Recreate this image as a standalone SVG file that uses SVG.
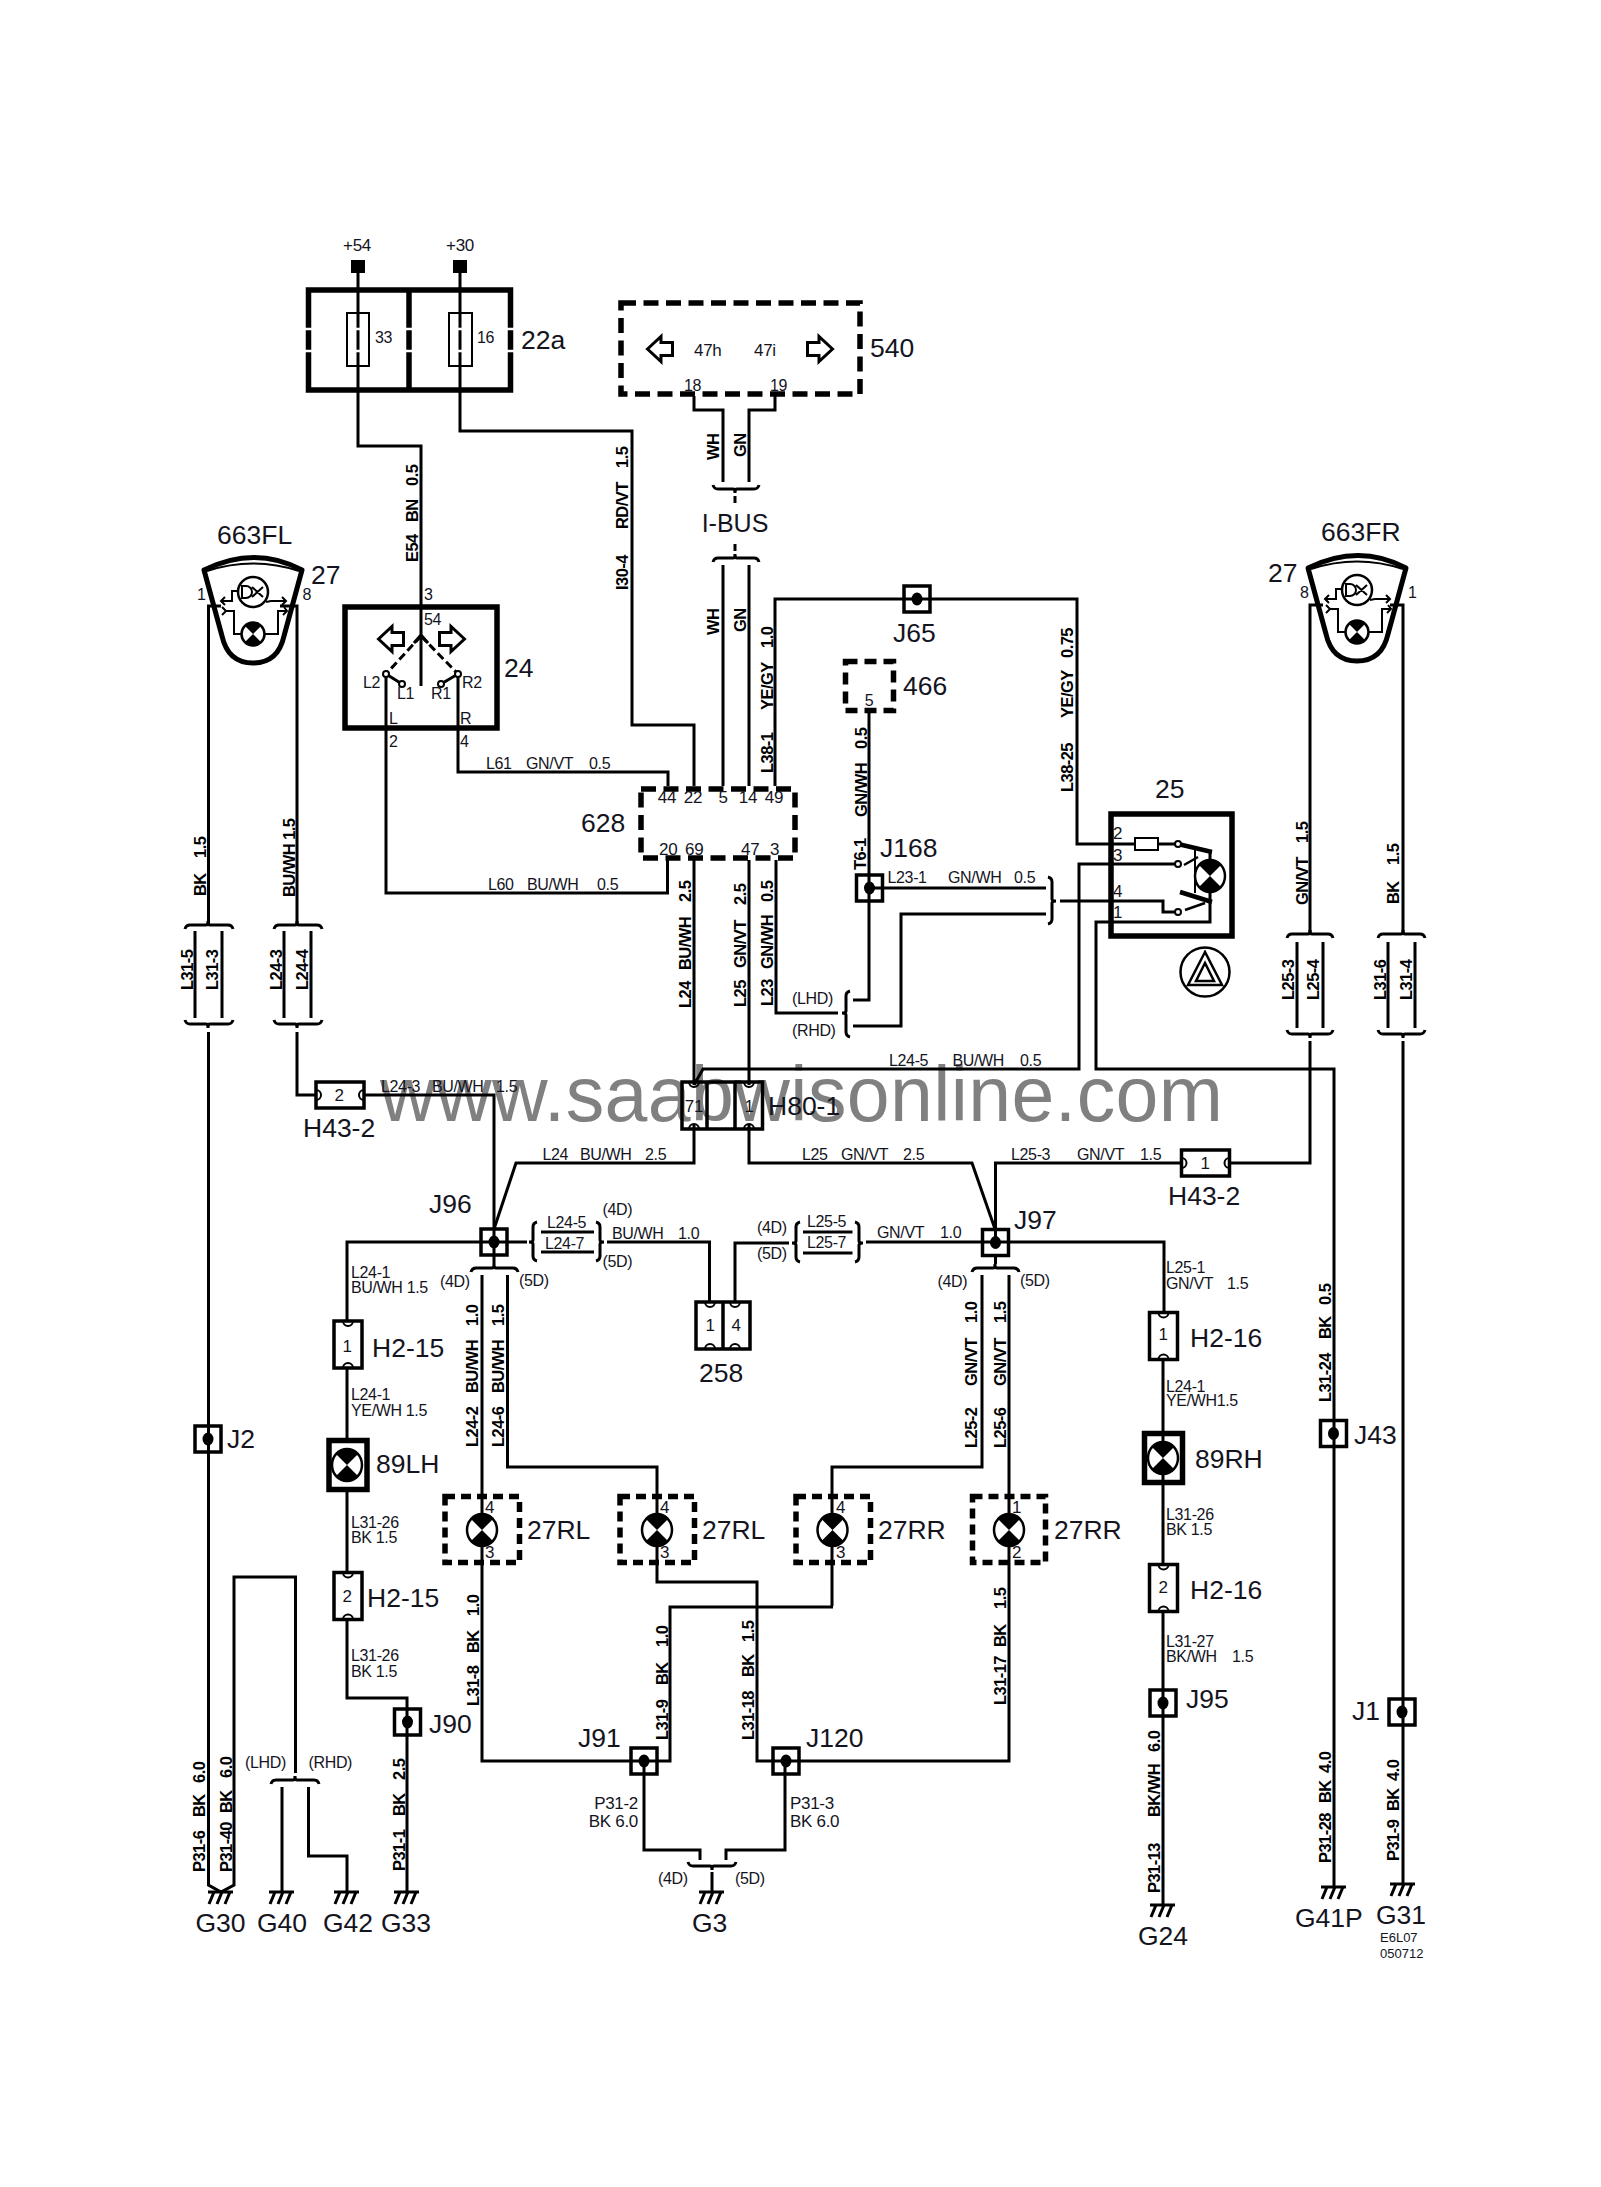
<svg xmlns="http://www.w3.org/2000/svg" width="1601" height="2187" viewBox="0 0 1601 2187">
<style>
text{font-family:"Liberation Sans",Arial,sans-serif;fill:#14141e}
.t{font-size:16px;letter-spacing:-.35px}.s{font-size:17px;letter-spacing:-.3px}.b{font-size:26.5px}.r{font-size:16.5px;letter-spacing:-.55px;font-weight:bold;fill:#000}
.w{fill:none;stroke:#000;stroke-width:3}
.k{fill:none;stroke:#000;stroke-width:2}
.hb{fill:none;stroke:#000;stroke-width:5.5}
.bx{fill:none;stroke:#000;stroke-width:3.5}
.m{text-anchor:middle}.e{text-anchor:end}
</style>
<defs>
<g id="j"><rect x="-13" y="-13" width="26" height="26" class="bx"/><ellipse rx="5.5" ry="6.5" fill="#000"/></g>
<g id="bulb"><ellipse rx="15" ry="16" fill="#fff" stroke="#000" stroke-width="2.5"/><path d="M0,0L-11,-11A15.5,15.5 0 0 1 11,-11ZM0,0L-11,11A15.5,15.5 0 0 0 11,11Z" fill="#000"/></g>
<g id="pv"><rect x="-14" y="-23.5" width="28" height="47" class="bx"/><path d="M-5,-23.5A5,5 0 0 0 5,-23.5M-5,23.5A5,5 0 0 1 5,23.5" class="k" stroke-width="2.5"/></g>
<g id="ph"><rect x="-24" y="-13" width="48" height="26" class="bx"/><path d="M-24,-5A5,5 0 0 1 -24,5M24,-5A5,5 0 0 0 24,5" class="k"/></g>
<path id="gnd" d="M-13,0H12M-7,0L-12,12M1,0L-4,12M9,0L4,12" class="w"/>
<g id="lamp663">
<path d="M-49,-30Q2,-55 49,-30L31,36Q25,63 0,63Q-25,63 -31,36Z" fill="none" stroke="#000" stroke-width="5" stroke-linejoin="round"/>
<path d="M-46,-29Q0,-44 46,-29" fill="none" stroke="#000" stroke-width="2"/>
<path d="M-32,1H-21V-9H-15M13,2L18,1H32M-27,11H-19V34H-11M11,34H25V11H34M-28,-3L-32,1L-28,5M29,-3L33,1L29,5M-31,7L-27,11L-31,15M31,7L34,11L30,15" class="k"/>
<circle cx="0" cy="-8" r="15" fill="#fff" stroke="#000" stroke-width="2.5"/>
<path d="M-11,-14H-7A6,6 0 0 1 -7,-2H-11ZM-1,-13L10,-3M10,-13L-1,-3" class="k"/>
<circle cx="0" cy="34" r="11.5" fill="#fff" stroke="#000" stroke-width="2.5"/>
<path d="M0,34L-8,26A11.5,11.5 0 0 1 8,26ZM0,34L-8,42A11.5,11.5 0 0 0 8,42Z" fill="#000"/>
</g>
<path id="al" d="M-12.5,0L1,-12.5V-6.5H12.5V6.5H1V12.5Z" fill="none" stroke="#000" stroke-width="3"/>
</defs>

<text x="380" y="1121" style="font-size:77px;fill:#808080" textLength="843">www.saabwisonline.com</text>

<g id="connectors">
<path class="w" d="M358,266V446H421V686M460,266V431H632V725H694V786M386,674V893H667.5V860M458,674V772H668V786"/>
<path class="w" d="M694,396V410H723V482M775,396V410H749V482M723,565V786M749,565V786M735,496V503M735,544V551"/>
<path class="w" d="M775,786V599H1077V844H1135M1158,844H1178M869,713V1000H853M776,860V1013H838M853,1026H901V914H1046M870,888H1046M1060,901H1163V912H1178"/>
<path class="w" d="M694,860V1085M694,1125V1163H516L494,1229M694,1085L703,1069H1079V864H1178M1210,890V922H1096V1069H1334V1887"/>
<path class="w" d="M749,860V1085M749,1125V1163H972L995,1229M995.5,1242V1163H1181M1230,1163H1310V1041M1323,605H1310V934"/>
<path class="w" d="M221,606H208.5V925M208.5,1032V1885L221,1892L234,1885V1577H295.5V1773M280,606H297V925M297,1032V1095H316M364,1095H494V1264"/>
<path class="w" d="M347,1321V1242H527M607,1242H709.5V1302M735,1302V1243H789M866,1242H1164V1312M995.5,1255V1264"/>
<path class="w" d="M347,1368V1438M347,1492V1572M347,1620V1698H407V1892"/>
<path class="w" d="M482,1275V1761H670V1607H833M507.5,1275V1467H657V1582H757V1761H1009V1275M982,1275V1467H832V1606"/>
<path class="w" d="M1163,1360V1564M1163,1612V1905"/>
<path class="w" d="M644,1761V1850H700V1860M785,1761V1850H726V1860M712,1872V1892M282,1787V1892M308.5,1787V1856H347V1892"/>
<path class="w" d="M1390,605H1403V934M1403,1041V1884M195,931V1018M222,931V1018M284,931V1018M311,931V1018M1297,942V1028M1323,942V1028M1388,942V1028M1415,942V1028"/>
<path class="w" d="M541,1232H594M541,1252H594M803,1232H852.5M803,1253H852.5"/>
<g class="w" id="braces">
<path d="M713,485q1,4 5,4H733q2,0 2,4q0,-4 2,-4H754q4,0 5,-4"/>
<path d="M713,562q1,-4 5,-4H733q2,0 2,-4q0,4 2,4H754q4,0 5,4"/>
<path d="M185,929q1,-4 5,-4H206q2,0 2,-4q0,4 2,4H228q4,0 5,4"/>
<path d="M185,1020q1,4 5,4H206q2,0 2,4q0,-4 2,-4H228q4,0 5,-4"/>
<path d="M274,929q1,-4 5,-4H295q2,0 2,-4q0,4 2,4H317q4,0 5,4"/>
<path d="M274,1020q1,4 5,4H295q2,0 2,4q0,-4 2,-4H317q4,0 5,-4"/>
<path d="M1287,938q1,-4 5,-4H1308q2,0 2,-4q0,4 2,4H1328q4,0 5,4"/>
<path d="M1287,1030q1,4 5,4H1308q2,0 2,4q0,-4 2,-4H1328q4,0 5,-4"/>
<path d="M1378,938q1,-4 5,-4H1401q2,0 2,-4q0,4 2,4H1420q4,0 5,4"/>
<path d="M1378,1030q1,4 5,4H1401q2,0 2,4q0,-4 2,-4H1420q4,0 5,-4"/>
<path d="M471,1272q1,-4 5,-4H492q2,0 2,-4q0,4 2,4H513q4,0 5,4"/>
<path d="M972,1272q1,-4 5,-4H993q2,0 2,-4q0,4 2,4H1014q4,0 5,4"/>
<path d="M271,1784q1,-4 5,-4H293q2,0 2,-4q0,4 2,4H314q4,0 5,4"/>
<path d="M688,1862q1,4 5,4H710q2,0 2,4q0,-4 2,-4H731q4,0 5,-4"/>
<path d="M850,991q-4,1 -4,5V1011q0,2 -4,2q4,0 4,2V1032q0,4 4,5"/>
<path d="M1048,877q4,1 4,5V899q0,2 4,2q-4,0 -4,2V919q0,4 -4,5"/>
<path d="M537,1222q-4,1 -4,5V1240q0,2 -4,2q4,0 4,2V1256q0,4 4,5"/>
<path d="M596,1222q4,1 4,5V1240q0,2 4,2q-4,0 -4,2V1256q0,4 -4,5"/>
<path d="M800,1222q-4,1 -4,5V1241q0,2 -4,2q4,0 4,2V1257q0,4 4,5"/>
<path d="M855,1222q4,1 4,5V1241q0,2 4,2q-4,0 -4,2V1257q0,4 -4,5"/>
</g>
</g>

<g id="wire-labels">
<g>
<text class="r" transform="translate(417.5,562) rotate(-90)">E54</text><text class="r" transform="translate(417.5,522) rotate(-90)">BN</text><text class="r" transform="translate(417.5,486) rotate(-90)">0.5</text>
<text class="r" transform="translate(628,590) rotate(-90)">I30-4</text><text class="r" transform="translate(628,529) rotate(-90)">RD/VT</text><text class="r" transform="translate(628,468) rotate(-90)">1.5</text>
<text class="r" transform="translate(719,460) rotate(-90)">WH</text><text class="r" transform="translate(746,457) rotate(-90)">GN</text>
<text class="r" transform="translate(719,635) rotate(-90)">WH</text><text class="r" transform="translate(746,632) rotate(-90)">GN</text>
<text class="r" transform="translate(772.5,773) rotate(-90)">L38-1</text><text class="r" transform="translate(772.5,710) rotate(-90)">YE/GY</text><text class="r" transform="translate(772.5,648) rotate(-90)">1.0</text>
<text class="r" transform="translate(1073,792) rotate(-90)">L38-25</text><text class="r" transform="translate(1073,718) rotate(-90)">YE/GY</text><text class="r" transform="translate(1073,658) rotate(-90)">0.75</text>
<text class="r" transform="translate(867,817) rotate(-90)">GN/WH</text><text class="r" transform="translate(867,749) rotate(-90)">0.5</text>
<text class="r" transform="translate(866,870) rotate(-90)">T6-1</text>
<text class="r" transform="translate(691,1008) rotate(-90)">L24</text><text class="r" transform="translate(691,970) rotate(-90)">BU/WH</text><text class="r" transform="translate(691,902) rotate(-90)">2.5</text>
<text class="r" transform="translate(746,1007) rotate(-90)">L25</text><text class="r" transform="translate(746,968) rotate(-90)">GN/VT</text><text class="r" transform="translate(746,905) rotate(-90)">2.5</text>
<text class="r" transform="translate(773,1006) rotate(-90)">L23</text><text class="r" transform="translate(773,969) rotate(-90)">GN/WH</text><text class="r" transform="translate(773,902) rotate(-90)">0.5</text>
<text class="r" transform="translate(206,896) rotate(-90)">BK</text><text class="r" transform="translate(206,858) rotate(-90)">1.5</text>
<text class="r" transform="translate(295,897) rotate(-90)">BU/WH 1.5</text>
<text class="r" transform="translate(192.5,990) rotate(-90)">L31-5</text><text class="r" transform="translate(217.5,990) rotate(-90)">L31-3</text>
<text class="r" transform="translate(282,990) rotate(-90)">L24-3</text><text class="r" transform="translate(307.5,990) rotate(-90)">L24-4</text>
<text class="r" transform="translate(1308,905) rotate(-90)">GN/VT</text><text class="r" transform="translate(1308,843) rotate(-90)">1.5</text>
<text class="r" transform="translate(1399,904) rotate(-90)">BK</text><text class="r" transform="translate(1399,865) rotate(-90)">1.5</text>
<text class="r" transform="translate(1294,1000) rotate(-90)">L25-3</text><text class="r" transform="translate(1319,1000) rotate(-90)">L25-4</text>
<text class="r" transform="translate(1386,1000) rotate(-90)">L31-6</text><text class="r" transform="translate(1412,1000) rotate(-90)">L31-4</text>
<text class="r" transform="translate(477.5,1447) rotate(-90)">L24-2</text><text class="r" transform="translate(477.5,1393) rotate(-90)">BU/WH</text><text class="r" transform="translate(477.5,1326) rotate(-90)">1.0</text>
<text class="r" transform="translate(504,1447) rotate(-90)">L24-6</text><text class="r" transform="translate(504,1393) rotate(-90)">BU/WH</text><text class="r" transform="translate(504,1326) rotate(-90)">1.5</text>
<text class="r" transform="translate(977,1448) rotate(-90)">L25-2</text><text class="r" transform="translate(977,1386) rotate(-90)">GN/VT</text><text class="r" transform="translate(977,1323) rotate(-90)">1.0</text>
<text class="r" transform="translate(1006,1448) rotate(-90)">L25-6</text><text class="r" transform="translate(1006,1386) rotate(-90)">GN/VT</text><text class="r" transform="translate(1006,1323) rotate(-90)">1.5</text>
<text class="r" transform="translate(479,1706) rotate(-90)">L31-8</text><text class="r" transform="translate(479,1653) rotate(-90)">BK</text><text class="r" transform="translate(479,1616) rotate(-90)">1.0</text>
<text class="r" transform="translate(668,1740) rotate(-90)">L31-9</text><text class="r" transform="translate(668,1685) rotate(-90)">BK</text><text class="r" transform="translate(668,1647) rotate(-90)">1.0</text>
<text class="r" transform="translate(753.5,1740) rotate(-90)">L31-18</text><text class="r" transform="translate(753.5,1677) rotate(-90)">BK</text><text class="r" transform="translate(753.5,1642) rotate(-90)">1.5</text>
<text class="r" transform="translate(1006,1705) rotate(-90)">L31-17</text><text class="r" transform="translate(1006,1647) rotate(-90)">BK</text><text class="r" transform="translate(1006,1609) rotate(-90)">1.5</text>
<text class="r" transform="translate(205,1872) rotate(-90)">P31-6</text><text class="r" transform="translate(205,1817) rotate(-90)">BK</text><text class="r" transform="translate(205,1783) rotate(-90)">6.0</text>
<text class="r" transform="translate(232,1872) rotate(-90)">P31-40</text><text class="r" transform="translate(232,1813) rotate(-90)">BK</text><text class="r" transform="translate(232,1778) rotate(-90)">6.0</text>
<text class="r" transform="translate(404.5,1871) rotate(-90)">P31-1</text><text class="r" transform="translate(404.5,1816) rotate(-90)">BK</text><text class="r" transform="translate(404.5,1780) rotate(-90)">2.5</text>
<text class="r" transform="translate(1160,1893) rotate(-90)">P31-13</text><text class="r" transform="translate(1160,1817) rotate(-90)">BK/WH</text><text class="r" transform="translate(1160,1752) rotate(-90)">6.0</text>
<text class="r" transform="translate(1331,1863) rotate(-90)">P31-28</text><text class="r" transform="translate(1331,1803) rotate(-90)">BK</text><text class="r" transform="translate(1331,1773) rotate(-90)">4.0</text>
<text class="r" transform="translate(1399,1861) rotate(-90)">P31-9</text><text class="r" transform="translate(1399,1811) rotate(-90)">BK</text><text class="r" transform="translate(1399,1781) rotate(-90)">4.0</text>
<text class="r" transform="translate(1331,1402) rotate(-90)">L31-24</text><text class="r" transform="translate(1331,1339) rotate(-90)">BK</text><text class="r" transform="translate(1331,1305) rotate(-90)">0.5</text>
</g>
<g>
<text class="t" x="486" y="769">L61</text><text class="t" x="526" y="769">GN/VT</text><text class="t" x="589" y="769">0.5</text>
<text class="t" x="488" y="890">L60</text><text class="t" x="527" y="890">BU/WH</text><text class="t" x="597" y="890">0.5</text>
<text class="t" x="887.5" y="883">L23-1</text><text class="t" x="948" y="883">GN/WH</text><text class="t" x="1014" y="883">0.5</text>
<text class="t" x="889" y="1066">L24-5</text><text class="t" x="952.5" y="1066">BU/WH</text><text class="t" x="1020" y="1066">0.5</text>
<text class="t" x="381" y="1092">L24-3</text><text class="t" x="432" y="1092">BU/WH</text><text class="t" x="496" y="1092">1.5</text>
<text class="t" x="542.5" y="1160">L24</text><text class="t" x="580" y="1160">BU/WH</text><text class="t" x="645" y="1160">2.5</text>
<text class="t" x="802" y="1160">L25</text><text class="t" x="841" y="1160">GN/VT</text><text class="t" x="903" y="1160">2.5</text>
<text class="t" x="1011" y="1160">L25-3</text><text class="t" x="1077" y="1160">GN/VT</text><text class="t" x="1140" y="1160">1.5</text>
<text class="t" x="547" y="1228">L24-5</text><text class="t" x="545" y="1249">L24-7</text>
<text class="t" x="807" y="1227">L25-5</text><text class="t" x="807" y="1248">L25-7</text>
<text class="t" x="612" y="1239">BU/WH</text><text class="t" x="678" y="1239">1.0</text>
<text class="t" x="877" y="1238">GN/VT</text><text class="t" x="940" y="1238">1.0</text>
<text class="t" x="602.5" y="1215">(4D)</text><text class="t" x="602.5" y="1267">(5D)</text>
<text class="t" x="757" y="1233">(4D)</text><text class="t" x="757" y="1259">(5D)</text>
<text class="t" x="440" y="1287">(4D)</text><text class="t" x="519" y="1286">(5D)</text>
<text class="t" x="937.5" y="1287">(4D)</text><text class="t" x="1020" y="1286">(5D)</text>
<text class="t" x="792" y="1004">(LHD)</text><text class="t" x="792" y="1036">(RHD)</text>
<text class="t" x="245" y="1768">(LHD)</text><text class="t" x="308.5" y="1768">(RHD)</text>
<text class="t" x="658" y="1884">(4D)</text><text class="t" x="735" y="1884">(5D)</text>
<text class="t" x="351" y="1278">L24-1</text><text class="t" x="351" y="1293">BU/WH 1.5</text>
<text class="t" x="351" y="1400">L24-1</text><text class="t" x="351" y="1416">YE/WH 1.5</text>
<text class="t" x="351" y="1528">L31-26</text><text class="t" x="351" y="1543">BK 1.5</text>
<text class="t" x="351" y="1661">L31-26</text><text class="t" x="351" y="1677">BK 1.5</text>
<text class="t" x="1166" y="1273">L25-1</text><text class="t" x="1166" y="1289">GN/VT</text><text class="t" x="1227" y="1289">1.5</text>
<text class="t" x="1166" y="1392">L24-1</text><text class="t" x="1166" y="1406">YE/WH1.5</text>
<text class="t" x="1166" y="1520">L31-26</text><text class="t" x="1166" y="1535">BK  1.5</text>
<text class="t" x="1166" y="1647">L31-27</text><text class="t" x="1166" y="1662">BK/WH</text><text class="t" x="1232" y="1662">1.5</text>
<text class="s e" x="638" y="1809">P31-2</text><text class="s e" x="638" y="1827">BK 6.0</text>
<text class="s" x="790" y="1809">P31-3</text><text class="s" x="790" y="1827">BK 6.0</text>
</g>
</g>

<g id="plus54"><rect x="351" y="260" width="14" height="13" fill="#000"/><text class="s m" x="357" y="251">+54</text></g>
<g id="plus30"><rect x="453" y="260" width="14" height="13" fill="#000"/><text class="s m" x="460" y="251">+30</text></g>

<g id="n22a">
<rect x="308.5" y="290" width="202" height="100" class="hb"/><path d="M409,290V390" class="hb"/>
<path d="M305,329H514M305,351H514" stroke="#fff" stroke-width="2.5" fill="none"/>
<rect x="347" y="313" width="22" height="53" class="k" stroke-width="2.5"/><rect x="449" y="313" width="23" height="53" class="k" stroke-width="2.5"/>
<text class="t" x="375" y="343">33</text><text class="t" x="477" y="343">16</text>
<text class="b" x="521" y="349">22a</text>
</g>

<g id="n540">
<rect x="621" y="303" width="239" height="91" class="hb" stroke-dasharray="15 7.5"/>
<use href="#al" x="660" y="349"/><use href="#al" transform="translate(820,349) scale(-1,1)"/>
<text class="s" x="694" y="356">47h</text><text class="s" x="754" y="356">47i</text>
<text class="t" x="684" y="391">18</text><text class="t" x="770" y="391">19</text>
<text class="b" x="870" y="357">540</text>
</g>
<text id="ibus" class="b m" x="735" y="532" style="font-size:25px">I-BUS</text>

<g id="n663FL">
<use href="#lamp663" x="253" y="600"/>
<text class="b" x="217" y="544">663FL</text><text class="b" x="311" y="584">27</text>
<text class="t" x="197" y="600">1</text><text class="t" x="302.5" y="600">8</text>
</g>
<g id="n663FR">
<use href="#lamp663" x="1357" y="598"/>
<text class="b" x="1321" y="541">663FR</text><text class="b" x="1268" y="582">27</text>
<text class="t" x="1300" y="598">8</text><text class="t" x="1408" y="598">1</text>
</g>

<g id="n24">
<rect x="345" y="607" width="152" height="121" class="hb"/>
<use href="#al" x="391" y="639"/><use href="#al" transform="translate(452,639) scale(-1,1)"/>
<path d="M414,643L421,635L428,643" class="w"/>
<path d="M421,636L386,674M421,636L458,674" fill="none" stroke="#000" stroke-width="3" stroke-dasharray="8 4"/>
<path d="M386,674L402,684M458,674L441,684" class="w"/>
<circle cx="386" cy="674" r="3" fill="#fff" stroke="#000" stroke-width="2"/><circle cx="402" cy="684" r="3" fill="#fff" stroke="#000" stroke-width="2"/><circle cx="441" cy="684" r="3" fill="#fff" stroke="#000" stroke-width="2"/><circle cx="458" cy="674" r="3" fill="#fff" stroke="#000" stroke-width="2"/>
<text class="t" x="424" y="600">3</text><text class="t" x="424" y="625">54</text>
<text class="t" x="363" y="688">L2</text><text class="t" x="397" y="699">L1</text><text class="t" x="431" y="699">R1</text><text class="t" x="462" y="688">R2</text>
<text class="t" x="389" y="724">L</text><text class="t" x="460" y="724">R</text><text class="t" x="389" y="747">2</text><text class="t" x="460" y="747">4</text>
<text class="b" x="504" y="677">24</text>
</g>

<g id="n628">
<rect x="641" y="789" width="154" height="69" class="hb" stroke-dasharray="15 7.5"/>
<text class="s m" x="667" y="803">44</text><text class="s m" x="693" y="803">22</text><text class="s m" x="723" y="803">5</text><text class="s m" x="748" y="803">14</text><text class="s m" x="774" y="803">49</text>
<text class="s" x="659" y="855">20</text><text class="s" x="685" y="855">69</text><text class="s" x="741" y="855">47</text><text class="s" x="770" y="855">3</text>
<text class="b" x="581" y="832">628</text>
</g>

<g id="nJ65"><use href="#j" x="917" y="599"/><text class="b" x="893" y="642">J65</text></g>
<g id="n466"><rect x="845.5" y="661.5" width="48" height="49" class="hb" stroke-dasharray="12 7"/><text class="t m" x="869" y="706">5</text><text class="b" x="903" y="695">466</text></g>
<g id="nJ168"><use href="#j" x="869.5" y="888"/><text class="b" x="880" y="857">J168</text></g>

<g id="n25">
<rect x="1111" y="814" width="121" height="122" class="hb"/>
<rect x="1135" y="838" width="23" height="12" fill="#fff" class="k" stroke-width="2.5"/>
<path d="M1178,844L1212,852M1180,892L1212,902" fill="none" stroke="#000" stroke-width="4.5"/>
<path d="M1195,850V893" class="k"/>
<path d="M1184,865L1198,857M1185,910L1205,903" fill="none" stroke="#000" stroke-width="2.5"/>
<circle cx="1178" cy="844" r="3" fill="#fff" stroke="#000" stroke-width="2"/><circle cx="1178" cy="864" r="3" fill="#fff" stroke="#000" stroke-width="2"/><circle cx="1178" cy="912" r="3" fill="#fff" stroke="#000" stroke-width="2"/>
<path d="M1210,852V862" class="w"/>
<use href="#bulb" x="1210" y="876"/>
<text class="s" x="1113" y="839">2</text><text class="s" x="1113" y="861">3</text><text class="s" x="1113" y="897">4</text><text class="s" x="1113" y="918">1</text>
<text class="b" x="1155" y="798">25</text>
<circle cx="1205" cy="972" r="24.5" fill="none" stroke="#000" stroke-width="2.5"/>
<path d="M1205,952L1188,985H1222ZM1205,963L1196,981H1214Z" fill="none" stroke="#000" stroke-width="2.5"/>
</g>

<g id="nH43-2L"><use href="#ph" x="340" y="1095"/><text class="s m" x="339" y="1101">2</text><text class="b" x="303" y="1137">H43-2</text></g>
<g id="nH43-2R"><use href="#ph" x="1205.5" y="1163"/><text class="s m" x="1205" y="1169">1</text><text class="b" x="1168" y="1205">H43-2</text></g>

<g id="nH80-1">
<rect x="682" y="1082" width="80.5" height="47" class="bx"/><path d="M707,1082V1129M735,1082V1129" class="bx"/>
<path d="M689,1082A5,5 0 0 0 699,1082M689,1129A5,5 0 0 1 699,1129M744,1082A5,5 0 0 0 754,1082M744,1129A5,5 0 0 1 754,1129" class="k"/>
<text class="s m" x="694" y="1112">71</text><text class="s m" x="749" y="1112">1</text>
<text class="b" x="768" y="1115">H80-1</text>
</g>

<g id="nJ96"><use href="#j" x="494" y="1242"/><text class="b" x="429" y="1213">J96</text></g>
<g id="nJ97"><use href="#j" x="995.5" y="1242.5"/><text class="b" x="1014" y="1229">J97</text></g>
<g id="n258">
<rect x="696" y="1302" width="54" height="47" class="bx"/><path d="M723,1302V1349" class="bx"/>
<path d="M705,1302A5,5 0 0 0 715,1302M705,1349A5,5 0 0 1 715,1349M730,1302A5,5 0 0 0 740,1302M730,1349A5,5 0 0 1 740,1349" class="k"/>
<text class="s m" x="710" y="1331">1</text><text class="s m" x="736" y="1331">4</text>
<text class="b" x="699" y="1382">258</text>
</g>

<g id="nH2-15a"><use href="#pv" x="348" y="1344.5"/><text class="s m" x="347" y="1352">1</text><text class="b" x="372" y="1357">H2-15</text></g>
<g id="nH2-15b"><use href="#pv" x="348" y="1596"/><text class="s m" x="347" y="1602">2</text><text class="b" x="367" y="1607">H2-15</text></g>
<g id="nH2-16a"><use href="#pv" x="1163.5" y="1336"/><text class="s m" x="1163" y="1340">1</text><text class="b" x="1190" y="1347">H2-16</text></g>
<g id="nH2-16b"><use href="#pv" x="1163.5" y="1588"/><text class="s m" x="1163" y="1593">2</text><text class="b" x="1190" y="1599">H2-16</text></g>

<g id="n89LH"><rect x="329" y="1440.5" width="38" height="49" class="hb"/><use href="#bulb" x="347" y="1465"/><text class="b" x="376" y="1473">89LH</text></g>
<g id="n89RH"><rect x="1144.5" y="1433.5" width="38" height="49" class="hb"/><use href="#bulb" x="1163" y="1458"/><text class="b" x="1195" y="1468">89RH</text></g>

<g id="n27RL1"><rect x="445" y="1496.5" width="74.5" height="66" class="hb" stroke-dasharray="10 6"/><use href="#bulb" x="482" y="1530"/><text class="s" x="485" y="1513">4</text><text class="s" x="485" y="1558">3</text><text class="b" x="527" y="1539">27RL</text></g>
<g id="n27RL2"><rect x="620" y="1496.5" width="74.5" height="66" class="hb" stroke-dasharray="10 6"/><use href="#bulb" x="657" y="1530"/><text class="s" x="660" y="1513">4</text><text class="s" x="660" y="1558">3</text><text class="b" x="702" y="1539">27RL</text></g>
<g id="n27RR1"><rect x="796" y="1496.5" width="74.5" height="66" class="hb" stroke-dasharray="10 6"/><use href="#bulb" x="832.5" y="1530"/><text class="s" x="836" y="1513">4</text><text class="s" x="836" y="1558">3</text><text class="b" x="878" y="1539">27RR</text></g>
<g id="n27RR2"><rect x="972.5" y="1496.5" width="73" height="66" class="hb" stroke-dasharray="10 6"/><use href="#bulb" x="1009" y="1530"/><text class="s" x="1012" y="1513">1</text><text class="s" x="1012" y="1558">2</text><text class="b" x="1054" y="1539">27RR</text></g>

<g id="nJ2"><use href="#j" x="208" y="1439"/><text class="b" x="227" y="1448">J2</text></g>
<g id="nJ90"><use href="#j" x="407.5" y="1722"/><text class="b" x="429" y="1733">J90</text></g>
<g id="nJ91"><use href="#j" x="644" y="1761"/><text class="b" x="578" y="1747">J91</text></g>
<g id="nJ120"><use href="#j" x="786" y="1761"/><text class="b" x="806" y="1747">J120</text></g>
<g id="nJ95"><use href="#j" x="1163" y="1703"/><text class="b" x="1186" y="1708">J95</text></g>
<g id="nJ43"><use href="#j" x="1333.5" y="1433.5"/><text class="b" x="1354" y="1444">J43</text></g>
<g id="nJ1"><use href="#j" x="1402" y="1712"/><text class="b" x="1352" y="1720">J1</text></g>

<g id="nG30"><use href="#gnd" x="221" y="1892"/><text class="b" x="195.5" y="1932">G30</text></g>
<g id="nG40"><use href="#gnd" x="282" y="1892"/><text class="b" x="257" y="1932">G40</text></g>
<g id="nG42"><use href="#gnd" x="347" y="1892"/><text class="b" x="323" y="1932">G42</text></g>
<g id="nG33"><use href="#gnd" x="407" y="1892"/><text class="b" x="381" y="1932">G33</text></g>
<g id="nG3"><use href="#gnd" x="712" y="1892"/><text class="b" x="692" y="1932">G3</text></g>
<g id="nG24"><use href="#gnd" x="1163" y="1905"/><text class="b" x="1138" y="1945">G24</text></g>
<g id="nG41P"><use href="#gnd" x="1334" y="1887"/><text class="b" x="1295" y="1927">G41P</text></g>
<g id="nG31"><use href="#gnd" x="1403" y="1884"/><text class="b" x="1376" y="1924">G31</text></g>
<text x="1380" y="1942" style="font-size:13px">E6L07</text><text x="1380" y="1958" style="font-size:13px">050712</text>
</svg>
